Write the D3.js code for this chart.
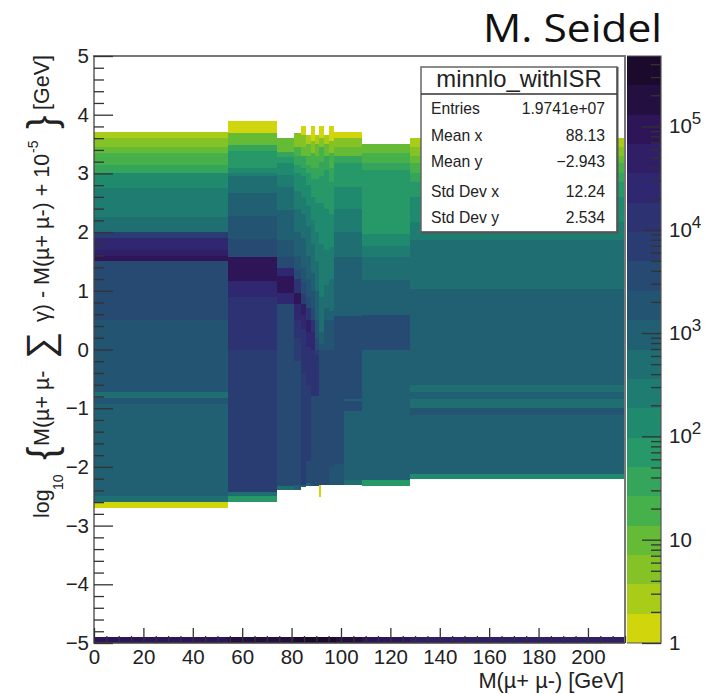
<!DOCTYPE html>
<html>
<head>
<meta charset="utf-8">
<script src="https://cdn.jsdelivr.net/npm/d3@7"></script>
<style>
  html, body { margin: 0; padding: 0; background: #fff; }
  text { font-family: "Liberation Sans", Arial, sans-serif; fill: #222; }
  .axis path { display: none; }
  .axis line { stroke: #333; stroke-width: 1.3; }
</style>
</head>
<body>
<svg id="chart" width="707" height="694"></svg>
<script>
// mass bin edges of the histogram columns, GeV
const massEdges = [0, 54.3, 74, 81, 84, 86, 88, 89.5, 91, 92, 93, 95, 97, 98, 101.2, 108.4, 128, 215];

// one list per column: [upper y of the band, counts]; a band runs down to the next entry
const columns = [
  [[3.7,2.7],[3.6,5],[3.45,10],[3.35,19],[3.15,36],[3.0,130],[2.75,250],[2.25,470],[2.0,6200],[1.9,22500],[1.7,43000],[1.6,82000],[1.5,3300],[0.5,1700],[-0.73,470],[-0.83,1700],[-0.93,900],[-2.5,470],[-2.6,1.4]],
  [[3.9,1.4],[3.68,10],[3.48,36],[3.38,68],[3.1,130],[3.0,250],[2.96,470],[2.67,900],[2.28,1700],[1.88,3300],[1.57,82000],[1.17,22500],[0.9,12000],[0,6200],[-2.43,470],[-2.5,68]],
  [[3.6,10],[3.37,36],[3.28,68],[3.18,130],[2.98,250],[2.76,470],[2.37,900],[1.86,1700],[1.57,3300],[1.38,22500],[1.26,82000],[0.97,22500],[0.78,3300],[-2.32,470]],
  [[3.68,5],[3.45,19],[3.3,36],[3.15,68],[3.0,130],[2.7,250],[2.4,470],[2.0,900],[1.6,1700],[1.35,3300],[1.2,12000],[0.97,82000],[0.78,22500],[0.5,12000],[0.2,6200],[-0.2,3300],[-2.3,900]],
  [[3.8,1.4],[3.65,5],[3.45,10],[3.3,36],[3.1,68],[2.95,130],[2.6,250],[2.3,470],[1.9,900],[1.4,1700],[1.15,3300],[0.95,6200],[0.78,43000],[0.58,22500],[0.35,12000],[-0.4,6200],[-2.3,900]],
  [[3.65,2.7],[3.5,10],[3.3,19],[3.15,36],[3.0,68],[2.8,130],[2.45,250],[2.1,470],[1.6,900],[1.2,1700],[0.9,3300],[0.7,12000],[0.5,43000],[0.3,22500],[0.05,12000],[-0.6,6200],[-1.9,3300],[-2.28,900]],
  [[3.8,1.4],[3.55,5],[3.35,19],[3.1,36],[2.9,68],[2.6,130],[2.2,250],[1.8,470],[1.3,900],[1.0,1700],[0.7,3300],[0.5,12000],[0.3,22500],[0,12000],[-0.8,3300]],
  [[3.65,2.7],[3.5,10],[3.3,19],[3.1,36],[2.9,68],[2.5,130],[2.0,250],[1.5,470],[1.0,900],[0.5,1700],[0.2,3300],[0,6200],[-0.1,12000],[-0.8,3300]],
  [[3.8,1.4],[3.6,5],[3.45,19],[3.2,36],[2.95,68],[2.5,130],[1.8,250],[0.9,470],[0.3,900],[0.1,1700],[0,3300],[-2.3,1.4]],
  [[3.8,1.4],[3.6,5],[3.45,19],[3.2,36],[2.95,68],[2.5,130],[1.8,250],[0.9,470],[0.3,900],[0.1,1700],[0,3300]],
  [[3.65,2.7],[3.5,10],[3.3,36],[3.05,68],[2.4,130],[1.7,250],[1.1,470],[0.7,900],[0.5,1700],[0,3300]],
  [[3.8,1.4],[3.55,5],[3.35,19],[3.1,36],[2.85,68],[2.3,130],[1.75,250],[1.2,470],[0.65,900],[0.5,1700],[0,3300],[-2,1700]],
  [[3.7,1.4],[3.6,5],[3.45,10],[3.3,36],[3.17,68],[2.76,130],[2.4,250],[2.0,470],[1.57,900],[0.57,3300],[-1.95,1700]],
  [[3.7,1.4],[3.6,5],[3.45,10],[3.3,36],[3.17,68],[2.76,130],[2.4,250],[2.0,470],[1.57,900],[0.57,3300],[-1.95,1700]],
  [[3.7,1.4],[3.6,5],[3.45,10],[3.3,36],[3.17,68],[2.76,130],[2.4,250],[2.0,470],[1.57,900],[0.57,3300],[-0.85,900],[-0.88,3300],[-1.05,900],[-2.23,470]],
  [[3.5,10],[3.35,19],[3.17,36],[3.05,68],[1.97,130],[1.77,250],[1.57,470],[1.18,900],[0.58,3300],[0,900],[-2.23,68]],
  [[3.6,2.7],[3.45,5],[3.3,10],[3.17,19],[3.0,36],[2.85,68],[2.6,130],[2.17,250],[1.86,470],[1.03,900],[-0.6,470],[-0.73,900],[-0.85,470],[-1.0,1700],[-1.12,900],[-2.12,130]]
];
// y where each column's lowest band ends
const columnFloors = [-2.7, -2.6, -2.4, -2.4, -2.35, -2.32, -2.32, -2.32, -2.52, -2.3, -2.3, -2.3, -2.3, -2.3, -2.3, -2.32, -2.2];
// the separate underflow row along y = -5
const floorCounts = [82000, 155000, 155000, 300000, 300000, 300000, 300000, 300000, 300000, 300000, 300000, 300000, 300000, 155000, 155000, 82000, 43000];

const zMax = 480000;
const palette = ["#d0d50c","#a8cc18","#85c226","#66bb36","#46b14a","#34a55a","#279868","#1f8a6e","#1e7c70","#1f6e72",
                 "#206072","#235472","#264a72","#2a3d72","#2d3272","#2f2870","#301e66","#2d1558","#241040","#1c0a2c"];

const xTicks = [0, 20, 40, 60, 80, 100, 120, 140, 160, 180, 200];
const yTicks = [-5, -4, -3, -2, -1, 0, 1, 2, 3, 4, 5];
const zTicks = [1, 10, 100, 1000, 10000, 100000];
const statNames = ["Entries", "Mean x", "Mean y", "Std Dev x", "Std Dev y"];
const statValues = ["1.9741e+07", "88.13", "\u22122.943", "12.24", "2.534"];

const svg = d3.select("#chart");
const x = d3.scaleLinear().domain([0, 215]).range([94, 625]);
const y = d3.scaleLinear().domain([-5, 5]).range([643, 56]);
const z = d3.scaleLog().domain([1, zMax]).range([643, 56]);
const color = d3.scaleQuantize().domain([0, Math.log10(zMax)]).range(palette);

// heatmap
const cells = [];
columns.forEach((bands, i) => {
  bands.forEach((b, j) => {
    const low = j + 1 < bands.length ? bands[j + 1][0] : columnFloors[i];
    cells.push({x0: massEdges[i], x1: massEdges[i + 1], y0: low, y1: b[0], v: b[1]});
  });
  cells.push({x0: massEdges[i], x1: massEdges[i + 1], y0: -5, y1: -4.89, v: floorCounts[i]});
});
svg.append("g").attr("shape-rendering", "crispEdges")
  .selectAll("rect").data(cells).join("rect")
  .attr("x", d => x(d.x0)).attr("width", d => x(d.x1) - x(d.x0))
  .attr("y", d => y(d.y1)).attr("height", d => y(d.y0) - y(d.y1))
  .attr("fill", d => color(Math.log10(d.v)));

// frame
svg.append("path").attr("d", `M93,56H625V643`).attr("fill", "none").attr("stroke", "#777").attr("stroke-width", 2);
svg.append("path").attr("d", `M94,56V643H625`).attr("fill", "none").attr("stroke", "#444").attr("stroke-width", 1.3);

// axes
const xMinor = d3.range(0, 216, 5).filter(d => d % 20);
const yMinor = d3.range(-50, 51, 2).filter(d => d % 10).map(d => d / 10);
svg.append("g").attr("class", "axis").attr("transform", "translate(0,643)")
  .call(d3.axisBottom(x).tickValues(xMinor).tickSize(-7).tickFormat(""));
svg.append("g").attr("class", "axis").attr("transform", "translate(94,0)")
  .call(d3.axisLeft(y).tickValues(yMinor).tickSize(-10).tickFormat(""));
const xAxis = svg.append("g").attr("class", "axis").attr("transform", "translate(0,643)")
  .call(d3.axisBottom(x).tickValues(xTicks).tickSize(-15).tickPadding(6));
xAxis.selectAll("text").attr("font-size", 20.5).attr("font-family", null);
const yAxis = svg.append("g").attr("class", "axis").attr("transform", "translate(94,0)")
  .call(d3.axisLeft(y).tickValues(yTicks).tickSize(-19).tickPadding(5));
yAxis.selectAll("text").attr("font-size", 20.5).attr("font-family", null);

// colour bar
const barLevels = d3.range(palette.length);
const barStep = (Math.log10(zMax)) / palette.length;
svg.append("g").attr("shape-rendering", "crispEdges")
  .selectAll("rect").data(barLevels).join("rect")
  .attr("x", 627).attr("width", 34)
  .attr("y", d => z(Math.pow(10, (d + 1) * barStep)))
  .attr("height", d => z(Math.pow(10, d * barStep)) - z(Math.pow(10, (d + 1) * barStep)))
  .attr("fill", d => palette[d]);
svg.append("path").attr("d", "M627,56H661V643H627").attr("fill", "none").attr("stroke", "#555").attr("stroke-width", 1.2);
const zMinor = [];
zTicks.forEach(t => [2, 3, 4, 5, 6, 7, 8, 9].forEach(m => { if (t * m < zMax) zMinor.push(t * m); }));
svg.append("g").attr("class", "axis").attr("transform", "translate(661,0)")
  .call(d3.axisRight(z).tickValues(zMinor).tickSize(-10).tickFormat(""));
svg.append("g").attr("class", "axis").attr("transform", "translate(661,0)")
  .call(d3.axisRight(z).tickValues(zTicks).tickSize(-19).tickFormat(""));
const zLabels = svg.append("g").selectAll("text").data(zTicks).join("text")
  .attr("x", 669).attr("y", d => z(d) + 7).attr("font-size", 20.5);
zLabels.append("tspan").text(d => d === 1 ? "1" : "10");
zLabels.filter(d => d >= 100).append("tspan").attr("dy", -9).attr("font-size", 17).text(d => Math.round(Math.log10(d)));

// stats box
svg.append("rect").attr("x", 421).attr("y", 67).attr("width", 196).attr("height", 165)
  .attr("fill", "#fff").attr("stroke", "#666").attr("stroke-width", 1.5);
svg.append("path").attr("d", "M421,232.5H617.5V67").attr("fill", "none").attr("stroke", "#555").attr("stroke-width", 2);
svg.append("line").attr("x1", 421).attr("x2", 617).attr("y1", 94).attr("y2", 94).attr("stroke", "#333").attr("stroke-width", 1.3);
svg.append("text").attr("x", 519).attr("y", 87).attr("text-anchor", "middle").attr("font-size", 23.8).text("minnlo_withISR");
const statRows = [114, 141, 167, 197, 223];
svg.append("g").selectAll("text").data(statNames).join("text")
  .attr("x", 431).attr("y", (d, i) => statRows[i]).attr("font-size", 15.7).text(d => d);
svg.append("g").selectAll("text").data(statValues).join("text")
  .attr("x", 605).attr("y", (d, i) => statRows[i]).attr("text-anchor", "end").attr("font-size", 15.7).text(d => d);

// axis titles
svg.append("text").attr("x", 624).attr("y", 688).attr("text-anchor", "end").attr("font-size", 21.8).text("M(\u00b5+ \u00b5-) [GeV]");

function yTitle(txt, py, size, bx, font) {
  return svg.append("text").attr("transform", `translate(${bx},${py}) rotate(-90)`)
    .attr("font-size", size).attr("font-family", font || null).text(txt);
}
yTitle("log", 518, 21.5, 49);
yTitle("10", 490, 14, 63);
yTitle("{", 460, 40, 56);
yTitle("M(\u00b5+ \u00b5-", 446, 21.5, 49);
yTitle("\u2211", 359, 38, 53, "DejaVu Sans");
yTitle("\u03b3) - M(\u00b5+ \u00b5-) + 10", 322, 21.5, 49);
yTitle("-5", 153, 14, 38);
yTitle("}", 129, 40, 56);
yTitle("[GeV]", 110, 21.5, 49);

// speaker note from the slide
svg.append("text").attr("x", 662).attr("y", 42).attr("text-anchor", "end")
  .attr("font-size", 38).attr("textLength", 179).attr("lengthAdjust", "spacingAndGlyphs")
  .style("font-family", "'Open Sans'").style("fill", "#111").text("M. Seidel");
</script>
</body>
</html>
